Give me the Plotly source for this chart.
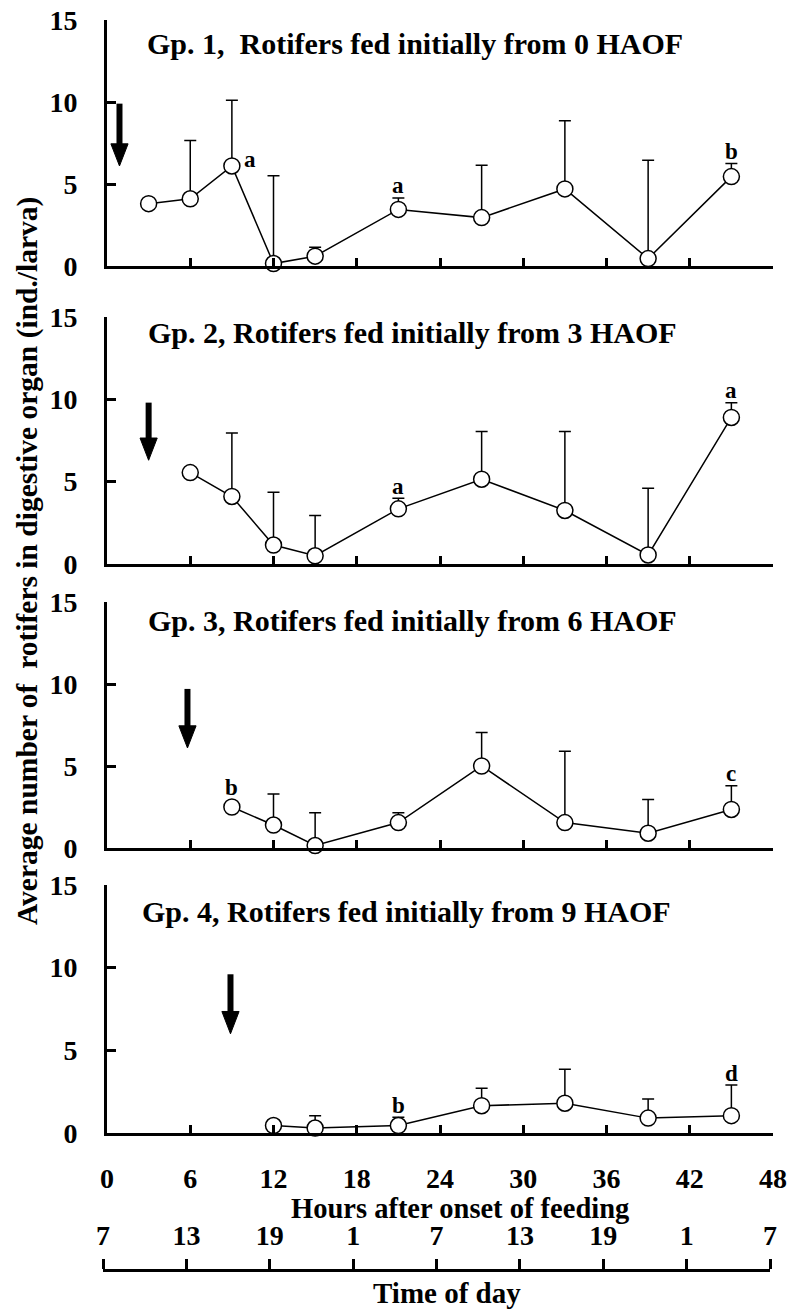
import plotly.graph_objects as go

# ---------------- data ----------------
hours_ticks = [0, 6, 12, 18, 24, 30, 36, 42, 48]
time_of_day = ["7", "13", "19", "1", "7", "13", "19", "1", "7"]
y_ticks = [0, 5, 10, 15]

titles = [
    "Gp. 1,  Rotifers fed initially from 0 HAOF",
    "Gp. 2, Rotifers fed initially from 3 HAOF",
    "Gp. 3, Rotifers fed initially from 6 HAOF",
    "Gp. 4, Rotifers fed initially from 9 HAOF",
]

g1_x = [3, 6, 9, 12, 15, 21, 27, 33, 39, 45]
g1_mean = [3.8, 4.1, 6.1, 0.15, 0.6, 3.45, 2.95, 4.7, 0.45, 5.45]
g1_sd = [None, 3.55, 4.0, 5.35, 0.55, 0.7, 3.2, 4.15, 6.0, 0.8]
g1_letters = ["", "", "a", "", "", "a", "", "", "", "b"]

g2_x = [6, 9, 12, 15, 21, 27, 33, 39, 45]
g2_mean = [5.55, 4.1, 1.15, 0.5, 3.35, 5.15, 3.25, 0.55, 8.9]
g2_sd = [None, 3.85, 3.2, 2.45, 0.65, 2.9, 4.8, 4.05, 0.9]
g2_letters = ["", "", "", "", "a", "", "", "", "a"]

g3_x = [9, 12, 15, 21, 27, 33, 39, 45]
g3_mean = [2.5, 1.4, 0.15, 1.55, 5.0, 1.55, 0.9, 2.35]
g3_sd = [None, 1.9, 2.0, 0.6, 2.05, 4.35, 2.05, 1.45]
g3_letters = ["b", "", "", "", "", "", "", "c"]

g4_x = [12, 15, 21, 27, 33, 39, 45]
g4_mean = [0.45, 0.3, 0.45, 1.65, 1.8, 0.9, 1.05]
g4_sd = [None, 0.75, 0.5, 1.05, 2.05, 1.15, 1.85]
g4_letters = ["", "", "b", "", "", "", "d"]

# feeding-onset arrows (hours, arrow tail value, arrow tip value)
arrow_x = [0.9, 3.0, 5.8, 8.9]
arrow_top = [9.9, 9.8, 9.7, 9.6]
arrow_tip = [6.1, 6.3, 6.1, 6.0]

groups = [
    (g1_x, g1_mean, g1_sd, g1_letters),
    (g2_x, g2_mean, g2_sd, g2_letters),
    (g3_x, g3_mean, g3_sd, g3_letters),
    (g4_x, g4_mean, g4_sd, g4_letters),
]

# ---------------- layout geometry (pixels) ----------------
W, H = 790, 1311
FONT = "Liberation Serif"
X_LEFT, X_RIGHT = 107, 773
panel_px = [(20, 266), (317, 564), (602, 848), (885, 1133)]  # (top, bottom)
title_px = [(145, 43), (146, 333), (146, 621), (140, 911)]


def py(p):
    return 1 - p / H


def px(p):
    return p / W


fig = go.Figure()
shapes = []
annotations = []

for i, (xs, ms, sds, letters) in enumerate(groups):
    n = i + 1
    xa = "x" if n == 1 else f"x{n}"
    ya = "y" if n == 1 else f"y{n}"
    fig.add_trace(go.Scatter(
        x=xs, y=ms, xaxis=xa, yaxis=ya, mode="lines+markers",
        line=dict(color="black", width=1.5),
        marker=dict(symbol="circle", size=16, color="white",
                    line=dict(color="black", width=1.5)),
        error_y=dict(type="data", symmetric=False, array=sds,
                     arrayminus=[0] * len(sds), color="black",
                     thickness=1.5, width=6),
        cliponaxis=False, showlegend=False, hoverinfo="x+y",
    ))
    # significance letters
    for xv, mv, sv, lt in zip(xs, ms, sds, letters):
        if not lt:
            continue
        if sv is not None and sv > 2:
            annotations.append(dict(x=xv, y=mv, xref=xa, yref=ya, text=lt,
                                    showarrow=False, xshift=18, yshift=6,
                                    font=dict(family=FONT, size=23, color="black", weight="bold")))
        else:
            base = mv + (sv if sv is not None else 0)
            annotations.append(dict(x=xv, y=base, xref=xa, yref=ya, text=lt,
                                    showarrow=False, yanchor="middle",
                                    yshift=12 + (8 if sv is None else 0),
                                    font=dict(family=FONT, size=23, color="black", weight="bold")))
    # arrow: shaft + head
    ax, at, tip = arrow_x[i], arrow_top[i], arrow_tip[i]
    head_len = 1.35
    hw = 0.62
    shapes.append(dict(type="line", xref=xa, yref=ya, x0=ax, x1=ax,
                       y0=at, y1=tip + head_len - 0.05,
                       line=dict(color="black", width=6)))
    shapes.append(dict(type="path", xref=xa, yref=ya,
                       path=f"M {ax - hw},{tip + head_len} L {ax + hw},{tip + head_len} L {ax},{tip} Z",
                       fillcolor="black", line=dict(color="black", width=1)))
    # panel title
    tx, ty = title_px[i]
    annotations.append(dict(x=px(tx), y=py(ty), xref="paper", yref="paper",
                            text=titles[i], showarrow=False,
                            xanchor="left", yanchor="middle",
                            font=dict(family=FONT, size=30, color="black", weight="bold")))

    top, bot = panel_px[i]
    axis_common = dict(showgrid=False, zeroline=False, showline=True,
                       linecolor="black", linewidth=3, ticks="inside",
                       tickcolor="black", tickwidth=2.5, automargin=False)
    fig.update_layout(**{
        ("xaxis" if n == 1 else f"xaxis{n}"): dict(
            domain=[px(X_LEFT), px(X_RIGHT)], anchor=ya, range=[0, 48],
            tickvals=hours_ticks, ticklen=8,
            showticklabels=(n == 4),
            ticklabelstandoff=18,
            tickfont=dict(family=FONT, size=28, color="black", weight="bold"),
            **axis_common),
        ("yaxis" if n == 1 else f"yaxis{n}"): dict(
            domain=[py(bot), py(top)], anchor=xa, range=[0, 15],
            tickvals=y_ticks, ticklen=9,
            ticklabelstandoff=21,
            tickfont=dict(family=FONT, size=28, color="black", weight="bold"),
            **axis_common),
    })

# time-of-day axis
fig.add_trace(go.Scatter(x=[hours_ticks[0], hours_ticks[-1]], y=[0, 0],
                         xaxis="x5", yaxis="y5", mode="markers",
                         marker=dict(opacity=0), showlegend=False,
                         hoverinfo="skip"))
fig.update_layout(
    xaxis5=dict(domain=[px(103), px(770)], anchor="y5", side="top",
                range=[0, 48], tickvals=hours_ticks, ticktext=time_of_day,
                showgrid=False, zeroline=False, showline=True,
                linecolor="black", linewidth=3, ticks="outside",
                ticklen=10, tickwidth=2.5, tickcolor="black",
                ticklabelstandoff=3, automargin=False,
                tickfont=dict(family=FONT, size=28, color="black", weight="bold")),
    yaxis5=dict(domain=[0, py(1272)], anchor="x5", visible=False, range=[0, 1],
                automargin=False),
)

annotations.append(dict(x=px(460), y=py(1208), xref="paper", yref="paper",
                        text="Hours after onset of feeding", showarrow=False,
                        xanchor="center", yanchor="middle",
                        font=dict(family=FONT, size=28.5, color="black", weight="bold")))
annotations.append(dict(x=px(447), y=py(1293), xref="paper", yref="paper",
                        text="Time of day", showarrow=False,
                        xanchor="center", yanchor="middle",
                        font=dict(family=FONT, size=29, color="black", weight="bold")))
annotations.append(dict(x=px(27), y=py(561), xref="paper", yref="paper",
                        text="Average number of  rotifers in digestive organ (ind./larva)",
                        showarrow=False, textangle=-90,
                        xanchor="center", yanchor="middle",
                        font=dict(family=FONT, size=29.5, color="black", weight="bold")))

fig.update_layout(
    width=W, height=H, autosize=False,
    margin=dict(l=0, r=0, t=0, b=0, pad=0),
    paper_bgcolor="white", plot_bgcolor="white",
    font=dict(family=FONT, color="black"),
    shapes=shapes, annotations=annotations,
    showlegend=False,
)

fig.write_html("out.html")
